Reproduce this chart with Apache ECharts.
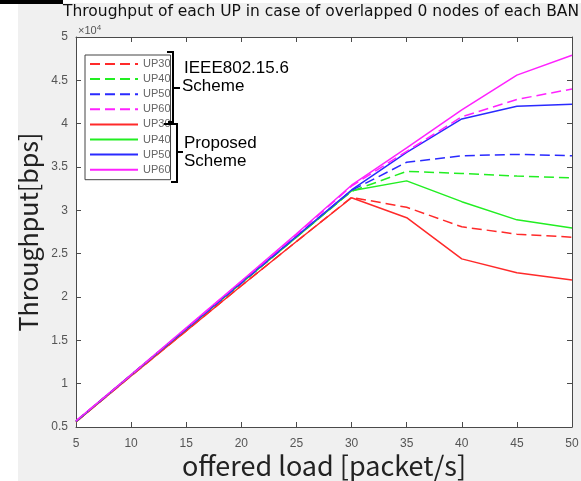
<!DOCTYPE html>
<html>
<head>
<meta charset="utf-8">
<script src="https://cdn.jsdelivr.net/npm/echarts@6/dist/echarts.min.js"></script>
<style>html,body{margin:0;padding:0;background:#fff;}#c{width:581px;height:481px;}</style>
</head>
<body>
<div id="c"></div>
<script>
const loads = [5, 10, 15, 20, 25, 30, 35, 40, 45, 50];
const yTicks = [5000, 10000, 15000, 20000, 25000, 30000, 35000, 40000, 45000, 50000];

const ieeeUP30 = [5600, 10900, 16100, 21300, 26400, 31500, 30350, 28100, 27250, 26900];
const ieeeUP40 = [5650, 11000, 16300, 21600, 26900, 32200, 34500, 34250, 33950, 33750];
const ieeeUP50 = [5650, 11000, 16300, 21600, 27000, 32300, 35550, 36300, 36450, 36300];
const ieeeUP60 = [5700, 11000, 16400, 21800, 27200, 32800, 36800, 40800, 42800, 44000];
const propUP30 = [5600, 10900, 16100, 21300, 26400, 31450, 29150, 24400, 22800, 21950];
const propUP40 = [5650, 11000, 16300, 21600, 26900, 32250, 33400, 31000, 28900, 27950];
const propUP50 = [5650, 11000, 16300, 21700, 27000, 32350, 36700, 40550, 42000, 42250];
const propUP60 = [5700, 11050, 16450, 21850, 27300, 32900, 37200, 41600, 45600, 47900];

const seriesNames = ['UP30 (IEEE)', 'UP40 (IEEE)', 'UP50 (IEEE)', 'UP60 (IEEE)',
                     'UP30 (Proposed)', 'UP40 (Proposed)', 'UP50 (Proposed)', 'UP60 (Proposed)'];
const seriesData = [ieeeUP30, ieeeUP40, ieeeUP50, ieeeUP60, propUP30, propUP40, propUP50, propUP60];
const colors = ['#ff2a2a', '#22ee22', '#2a2aff', '#ff22ff', '#ff2a2a', '#22ee22', '#2a2aff', '#ff22ff'];

const chart = echarts.init(document.getElementById('c'), null, {renderer: 'canvas'});

const series = seriesNames.map((n, i) => ({
  name: n,
  type: 'line',
  symbol: 'none',
  data: loads.map((x, j) => [x, seriesData[i][j]]),
  lineStyle: {color: colors[i], width: 1.5, type: i < 4 ? [10, 5] : 'solid'},
  itemStyle: {color: colors[i]},
  z: i < 4 ? 3 : 2,
  animation: false
}));

const axisLine = {show: true, lineStyle: {color: '#4a4a4a', width: 1}};
const tickStyle = {show: true, inside: true, length: 5, lineStyle: {color: '#4a4a4a'}};
const lblStyle = {color: '#555', fontSize: 12, fontFamily: 'Liberation Sans, Arial, sans-serif'};

chart.setOption({
  backgroundColor: '#ffffff',
  animation: false,
  title: {
    text: 'Throughput of each UP in case of overlapped 0 nodes of each BAN',
    left: 63, top: 3, padding: 0,
    textStyle: {fontSize: 15.5, fontWeight: 'normal', color: '#111', fontFamily: 'DejaVu Sans, sans-serif', lineHeight: 18}
  },
  grid: {left: 76, right: 9, top: 37, bottom: 54, containLabel: false, outerBoundsMode: 'none',
         show: true, backgroundColor: '#ffffff', borderWidth: 0},
  legend: {
    orient: 'vertical', left: 85, top: 55,
    data: seriesNames,
    formatter: n => n.slice(0, 4),
    itemWidth: 48, itemHeight: 14, itemGap: 1.1,
    padding: [2, 0, 3, 4],
    backgroundColor: '#ffffff', borderColor: '#444', borderWidth: 1,
    itemStyle: {color: 'rgba(0,0,0,0)', borderWidth: 0, opacity: 0},
    textStyle: {fontSize: 11, color: '#666', lineHeight: 14, fontFamily: 'Liberation Sans, Arial, sans-serif'},
    selectedMode: false
  },
  xAxis: [{
    type: 'value', min: 5, max: 50, interval: 5,
    name: 'offered load [packet/s]', nameLocation: 'middle', nameGap: 25, nameMoveOverlap: false,
    nameTextStyle: {fontSize: 27, color: '#222', fontFamily: 'Noto Sans CJK JP, sans-serif'},
    axisLine: axisLine, axisTick: tickStyle, splitLine: {show: false},
    axisLabel: Object.assign({margin: 11}, lblStyle)
  }, {
    type: 'value', min: 5, max: 50, interval: 5, position: 'top',
    axisLine: axisLine, axisTick: tickStyle, splitLine: {show: false}, axisLabel: {show: false}
  }],
  yAxis: [{
    type: 'value', min: 5000, max: 50000, interval: 5000,
    name: 'Throughput[bps]', nameLocation: 'middle', nameGap: 35, nameMoveOverlap: false,
    nameTextStyle: {fontSize: 25, color: '#222', fontFamily: 'Noto Sans CJK JP, sans-serif'},
    axisLine: axisLine, axisTick: tickStyle, splitLine: {show: false},
    axisLabel: Object.assign({margin: 8, formatter: v => String(v / 10000)}, lblStyle)
  }, {
    type: 'value', min: 5000, max: 50000, interval: 5000, position: 'right',
    axisLine: axisLine, axisTick: tickStyle, splitLine: {show: false}, axisLabel: {show: false}
  }],
  graphic: [
    {type: 'rect', z: -10, silent: true, shape: {x: 18, y: 3, width: 563, height: 478}, style: {fill: '#f0f0f0'}},
    {type: 'rect', z: -9, silent: true, shape: {x: 0, y: 0, width: 63, height: 4}, style: {fill: '#000'}},
    {type: 'text', left: 78, top: 24, z: 10, style: {
      text: '×10{s|4}', fill: '#555', fontSize: 11, fontFamily: 'Liberation Sans, Arial, sans-serif',
      rich: {s: {fontSize: 8, verticalAlign: 'top', padding: [0, 0, 6, 0], fill: '#555'}}
    }},
    {type: 'polyline', z: 20, shape: {points: [[167, 52], [173, 52], [173, 88], [180, 88], [173, 88], [173, 122], [168, 122]]},
      style: {stroke: '#000', lineWidth: 2, fill: null}},
    {type: 'polyline', z: 20, shape: {points: [[164, 124], [177, 124], [177, 152], [183, 152], [177, 152], [177, 182], [171, 182]]},
      style: {stroke: '#000', lineWidth: 2, fill: null}},
    {type: 'text', z: 20, left: 184, top: 60, style: {text: 'IEEE802.15.6', fill: '#000', fontSize: 17, fontFamily: 'Liberation Sans, Arial, sans-serif'}},
    {type: 'text', z: 20, left: 182, top: 78, style: {text: 'Scheme', fill: '#000', fontSize: 17, fontFamily: 'Liberation Sans, Arial, sans-serif'}},
    {type: 'text', z: 20, left: 184, top: 135, style: {text: 'Proposed', fill: '#000', fontSize: 17, fontFamily: 'Liberation Sans, Arial, sans-serif'}},
    {type: 'text', z: 20, left: 184, top: 153, style: {text: 'Scheme', fill: '#000', fontSize: 17, fontFamily: 'Liberation Sans, Arial, sans-serif'}}
  ],
  series: series
});
</script>
</body>
</html>
